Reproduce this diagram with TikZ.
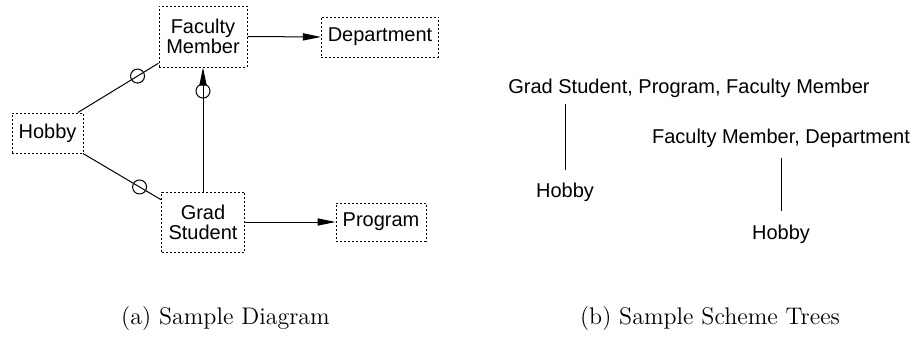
\documentclass[tikz,border=0pt]{standalone}
\usepackage{fontspec}
\setsansfont{Liberation Sans}
\usetikzlibrary{arrows.meta, positioning}

\begin{document}
\begin{tikzpicture}[x=0.5pt, y=-0.5pt, line width=0.5pt,
    box/.style={draw, dash pattern=on 1pt off 1pt, align=center, inner xsep=3.2pt, inner ysep=2pt, font=\sffamily\fontsize{10}{10}\selectfont},
    ring/.style={draw, circle, minimum size=7pt, inner sep=0pt},
    tip/.style={-{Triangle[length=9pt, width=3.6pt]}},
    treetext/.style={anchor=base, font=\sffamily\fontsize{10}{12}\selectfont},
    caption/.style={anchor=base, font=\fontsize{12}{14}\selectfont}]
    \useasboundingbox (0,0) rectangle (914,337);

    % Left: sample diagram
    \node[box, minimum width=44pt, minimum height=30.5pt] (faculty) at (203,36.5) {Faculty\\Member};
    \node[box, minimum width=58pt, minimum height=20pt] (dept) at (380,37) {Department};
    \node[box, minimum width=35.5pt, minimum height=20pt] (hobby) at (47.5,133) {Hobby};
    \node[box, minimum width=41.5pt, minimum height=30pt] (grad) at (203,222) {Grad\\Student};
    \node[box, minimum width=45pt, minimum height=19pt] (program) at (381,222) {Program};

    \draw (hobby.34) -- node[ring, pos=0.74] (ring1) {} (faculty.211);
    \draw (hobby.330) -- node[ring, pos=0.725] (ring2) {} (grad.152);
    \draw[tip] (grad.north) -- node[ring, pos=0.81] (ring3) {} (faculty.south);
    \draw[tip] (faculty.east) -- (dept.west);
    \draw[tip] (grad.east) -- (program.west);

    % Right: scheme trees
    \node[treetext] (root1) at (689,93) {Grad Student, Program, Faculty Member};
    \node[treetext] (leaf1) at (565,197) {Hobby};
    \draw[shorten >=2.5pt] (leaf1.north |- root1.south) -- (leaf1.north);

    \node[treetext] (root2) at (781,143.5) {Faculty Member, Department};
    \node[treetext] (leaf2) at (781,239) {Hobby};
    \draw[shorten <=1.5pt, shorten >=3pt] (root2.south) -- (leaf2.north);

    % Captions
    \node[caption] (capa) at (225.5,324) {(a) Sample Diagram};
    \node[caption] (capb) at (710,324) {(b) Sample Scheme Trees};
\end{tikzpicture}
\end{document}
